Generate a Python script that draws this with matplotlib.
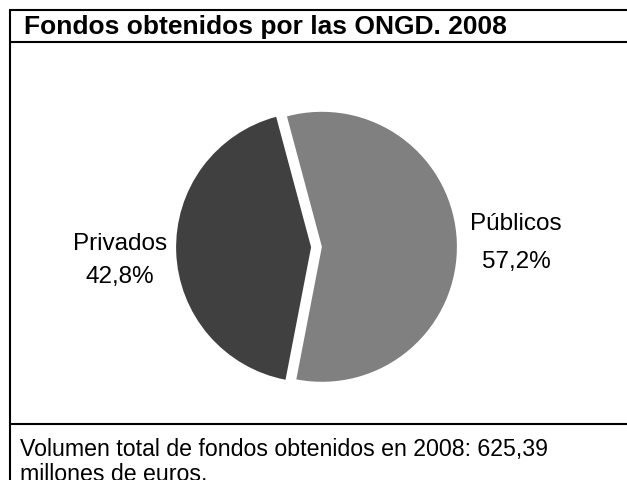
import matplotlib
matplotlib.use('Agg')
import matplotlib.pyplot as plt

title = "Fondos obtenidos por las ONGD. 2008"
categories = ["Públicos", "Privados"]
shares = [57.2, 42.8]
share_labels = ["57,2%", "42,8%"]
footer_lines = ["Volumen total de fondos obtenidos en 2008: 625,39",
                "millones de euros."]
colors = ["#808080", "#404040"]

plt.rcParams['font.family'] = ['Liberation Sans', 'DejaVu Sans']

W, H = 627, 481
R = 135
fig = plt.figure(figsize=(W / 100, H / 100), dpi=100)
ax = fig.add_axes([0, 0, 1, 1])
ax.pie(shares, colors=colors, startangle=105, counterclock=False,
       explode=[0.04 * R, 0.04 * R], radius=R, center=(316.5, H - 248),
       wedgeprops=dict(linewidth=0), frame=True)
ax.set_xlim(0, W)
ax.set_ylim(0, H)
ax.set_aspect('auto')
ax.axis('off')

# frame lines
lw = 1.5
ax.plot([9, W], [H - 11, H - 11], color='black', lw=lw, solid_capstyle='butt')
ax.plot([9, W], [H - 43, H - 43], color='black', lw=lw, solid_capstyle='butt')
ax.plot([9, W], [H - 425, H - 425], color='black', lw=lw, solid_capstyle='butt')
ax.plot([10, 10], [H - 11, 0], color='black', lw=lw, solid_capstyle='butt')

ax.text(24, H - 34, title, fontsize=19, fontweight='bold', va='baseline', ha='left')

# slice labels (name line, value line)
label_pos = {"Públicos": (516, H - 230, H - 268), "Privados": (120, H - 250, H - 283)}
for cat, lab in zip(categories, share_labels):
    x, y1, y2 = label_pos[cat]
    ax.text(x, y1, cat, fontsize=17.5, ha='center', va='baseline')
    ax.text(x, y2, lab, fontsize=17.5, ha='center', va='baseline')

ax.text(20, H - 456, footer_lines[0], fontsize=16.7, va='baseline', ha='left')
ax.text(20, H - 481, footer_lines[1], fontsize=16.7, va='baseline', ha='left')

fig.savefig('out.png', dpi=100)
